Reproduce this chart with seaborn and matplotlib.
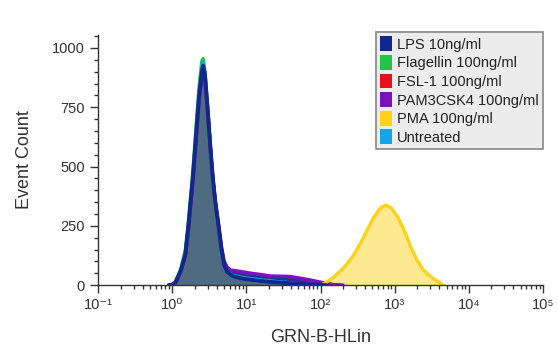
import matplotlib
matplotlib.use("Agg")
import matplotlib.pyplot as plt
import seaborn as sns
from matplotlib.patches import Patch
from matplotlib.ticker import FixedLocator, MultipleLocator, LogLocator, NullFormatter

# data (x = GRN-B-HLin, y = event count)
main_x = [0.9, 1.0, 1.1, 1.3, 1.5, 1.65, 1.9, 2.1, 2.3, 2.5, 2.6, 2.75, 3.0, 3.3, 3.5,
          3.8, 4.2, 4.6, 5.0, 5.5, 6.5, 8, 10, 15, 20, 30, 50, 80, 120]
lps_y = [0, 2, 10, 60, 130, 250, 460, 640, 800, 900, 925, 890, 740, 560, 460,
         350, 250, 150, 85, 55, 38, 30, 25, 18, 14, 10, 6, 3, 0]
flag_y = [0, 3, 14, 70, 150, 275, 490, 680, 840, 945, 955, 905, 745, 560, 455,
          345, 245, 148, 83, 52, 36, 29, 24, 17, 13, 9, 5, 2, 0]
fsl_y = [0, 2, 10, 58, 128, 245, 455, 630, 790, 890, 910, 875, 730, 555, 455,
         345, 248, 150, 86, 56, 39, 31, 26, 19, 15, 11, 6, 3, 0]
untr_y = [0, 2, 11, 62, 135, 255, 465, 650, 815, 915, 940, 895, 740, 558, 458,
          348, 250, 152, 88, 58, 42, 35, 30, 23, 19, 13, 7, 3, 0]

pam_x = [0.9, 1.0, 1.1, 1.3, 1.5, 1.65, 1.9, 2.1, 2.3, 2.5, 2.6, 2.75, 3.0, 3.3, 3.5,
         3.8, 4.2, 4.6, 5.0, 5.5, 6.1, 8, 11.3, 15, 21, 30, 39, 55, 73, 100, 117, 150, 200]
pam_y = [0, 2, 10, 58, 125, 240, 445, 620, 780, 880, 900, 868, 730, 555, 458,
         352, 255, 160, 100, 75, 63, 58, 50, 45, 38, 37, 36, 28, 21, 12, 8, 2, 0]

pma_x = [100, 117, 150, 204, 270, 347, 430, 525, 640, 760, 900, 1100, 1350, 1650,
         2000, 2450, 3000, 3570, 4500]
pma_y = [0, 10, 34, 72, 120, 177, 235, 287, 325, 338, 325, 287, 230, 160,
         105, 63, 38, 21, 0]

labels = ["LPS 10ng/ml", "Flagellin 100ng/ml", "FSL-1 100ng/ml",
          "PAM3CSK4 100ng/ml", "PMA 100ng/ml", "Untreated"]
colors = ["#10288c", "#1fc44a", "#e8101a", "#7a12c2", "#ffd21a", "#14a6e8"]

x_ticks = [0.1, 1, 10, 100, 1000, 10000, 100000]
x_ticklabels = ["10⁻¹", "10⁰", "10¹", "10²", "10³", "10⁴", "10⁵"]
y_ticks = [0, 250, 500, 750, 1000]

sns.set_style("ticks")
plt.rcParams['font.family'] = ['Liberation Sans', 'DejaVu Sans']

fig = plt.figure(figsize=(5.58, 3.6), dpi=100)
ax = fig.add_axes([0.176, 0.208, 0.797, 0.695])
ax.set_xscale('log')

# fills
ax.fill_between(pma_x, pma_y, color="#fde98f", lw=0)
ax.fill_between(pam_x, pam_y, color="#23308c", lw=0)
ax.fill_between(main_x, lps_y, color="#4e6b82", lw=0)

# outlines
sns.lineplot(x=main_x, y=flag_y, color=colors[1], lw=2.4, ax=ax)
sns.lineplot(x=main_x, y=fsl_y, color=colors[2], lw=2.4, ax=ax)
sns.lineplot(x=main_x, y=untr_y, color=colors[5], lw=2.4, ax=ax)
sns.lineplot(x=pam_x, y=pam_y, color=colors[3], lw=2.6, ax=ax)
sns.lineplot(x=pma_x, y=pma_y, color=colors[4], lw=2.4, ax=ax)
sns.lineplot(x=main_x, y=lps_y, color=colors[0], lw=2.8, ax=ax)

ax.set_xlim(0.1, 100000)
ax.set_ylim(0, 1055)
ax.xaxis.set_major_locator(FixedLocator(x_ticks))
ax.set_xticklabels(x_ticklabels)
ax.xaxis.set_minor_locator(LogLocator(base=10, subs=range(2, 10), numticks=20))
ax.xaxis.set_minor_formatter(NullFormatter())
ax.set_yticks(y_ticks)
ax.yaxis.set_minor_locator(MultipleLocator(50))

for s in ["top", "right"]:
    ax.spines[s].set_visible(False)
for s in ["left", "bottom"]:
    ax.spines[s].set_color("#333333")
    ax.spines[s].set_linewidth(1.0)

ax.tick_params(which="major", length=6, width=1, color="#333333",
               labelsize=10.5, labelcolor="#333333")
ax.tick_params(which="minor", length=3, width=1, color="#333333")

ax.set_xlabel("GRN-B-HLin", fontsize=13, color="#333333", labelpad=12)
ax.set_ylabel("Event Count", fontsize=13, color="#333333", labelpad=14)

handles = [Patch(facecolor=c, edgecolor="none") for c in colors]
leg = ax.legend(handles, labels, loc="upper right", bbox_to_anchor=(1.0, 1.012),
                borderaxespad=0, fontsize=10.5, frameon=True, fancybox=False,
                labelspacing=0.22, handlelength=0.85, handleheight=1.2,
                handletextpad=0.3, borderpad=0.3, framealpha=1)
leg.get_frame().set_facecolor("#ececec")
leg.get_frame().set_edgecolor("#888888")
leg.get_frame().set_linewidth(1.2)
for t in leg.get_texts():
    t.set_color("#222222")

plt.savefig("out.png", dpi=100)
